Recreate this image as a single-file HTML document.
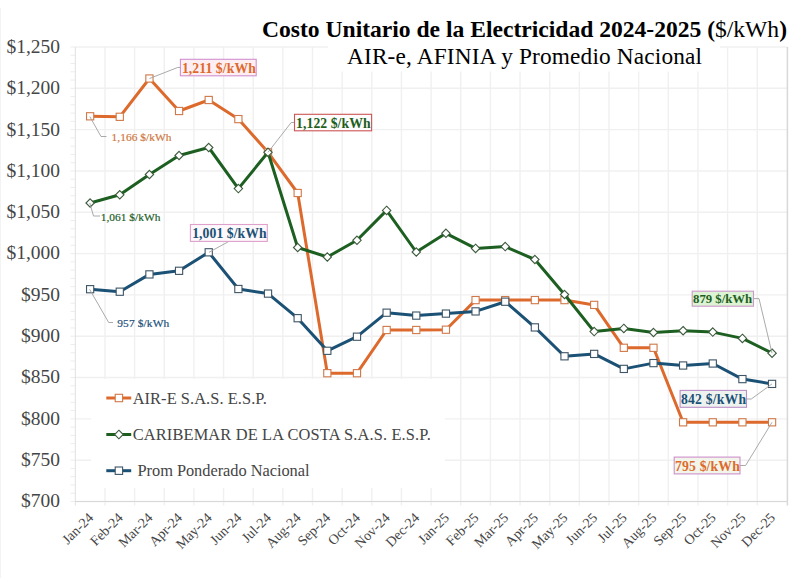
<!DOCTYPE html>
<html><head><meta charset="utf-8"><style>
html,body{margin:0;padding:0;background:#fff;}
body{width:800px;height:578px;overflow:hidden;}
svg{display:block;font-family:"Liberation Serif",serif;}
</style></head><body>
<svg width="800" height="578" viewBox="0 0 800 578">
<rect x="0" y="0" width="800" height="578" fill="#fff"/>
<line x1="0.5" y1="8" x2="0.5" y2="578" stroke="#f3f3f3" stroke-width="1"/>

<g stroke="#f0f0f0" stroke-width="1.4">
<line x1="75.30" y1="501.50" x2="786.90" y2="501.50"/>
<line x1="75.30" y1="460.18" x2="786.90" y2="460.18"/>
<line x1="75.30" y1="418.86" x2="786.90" y2="418.86"/>
<line x1="75.30" y1="377.55" x2="786.90" y2="377.55"/>
<line x1="75.30" y1="336.23" x2="786.90" y2="336.23"/>
<line x1="75.30" y1="294.91" x2="786.90" y2="294.91"/>
<line x1="75.30" y1="253.59" x2="786.90" y2="253.59"/>
<line x1="75.30" y1="212.27" x2="786.90" y2="212.27"/>
<line x1="75.30" y1="170.95" x2="786.90" y2="170.95"/>
<line x1="75.30" y1="129.64" x2="786.90" y2="129.64"/>
<line x1="75.30" y1="88.32" x2="786.90" y2="88.32"/>
<line x1="75.30" y1="47.00" x2="786.90" y2="47.00"/>
<line x1="104.95" y1="47.00" x2="104.95" y2="505.50"/>
<line x1="134.60" y1="47.00" x2="134.60" y2="505.50"/>
<line x1="164.25" y1="47.00" x2="164.25" y2="505.50"/>
<line x1="193.90" y1="47.00" x2="193.90" y2="505.50"/>
<line x1="223.55" y1="47.00" x2="223.55" y2="505.50"/>
<line x1="253.20" y1="47.00" x2="253.20" y2="505.50"/>
<line x1="282.85" y1="47.00" x2="282.85" y2="505.50"/>
<line x1="312.50" y1="47.00" x2="312.50" y2="505.50"/>
<line x1="342.15" y1="47.00" x2="342.15" y2="505.50"/>
<line x1="371.80" y1="47.00" x2="371.80" y2="505.50"/>
<line x1="401.45" y1="47.00" x2="401.45" y2="505.50"/>
<line x1="431.10" y1="47.00" x2="431.10" y2="505.50"/>
<line x1="460.75" y1="47.00" x2="460.75" y2="505.50"/>
<line x1="490.40" y1="47.00" x2="490.40" y2="505.50"/>
<line x1="520.05" y1="47.00" x2="520.05" y2="505.50"/>
<line x1="549.70" y1="47.00" x2="549.70" y2="505.50"/>
<line x1="579.35" y1="47.00" x2="579.35" y2="505.50"/>
<line x1="609.00" y1="47.00" x2="609.00" y2="505.50"/>
<line x1="638.65" y1="47.00" x2="638.65" y2="505.50"/>
<line x1="668.30" y1="47.00" x2="668.30" y2="505.50"/>
<line x1="697.95" y1="47.00" x2="697.95" y2="505.50"/>
<line x1="727.60" y1="47.00" x2="727.60" y2="505.50"/>
<line x1="757.25" y1="47.00" x2="757.25" y2="505.50"/>
</g>
<g stroke="#ededed" stroke-width="1">
<line x1="70.5" y1="501.50" x2="75.30" y2="501.50"/>
<line x1="70.5" y1="493.24" x2="75.30" y2="493.24"/>
<line x1="70.5" y1="484.97" x2="75.30" y2="484.97"/>
<line x1="70.5" y1="476.71" x2="75.30" y2="476.71"/>
<line x1="70.5" y1="468.45" x2="75.30" y2="468.45"/>
<line x1="70.5" y1="460.18" x2="75.30" y2="460.18"/>
<line x1="70.5" y1="451.92" x2="75.30" y2="451.92"/>
<line x1="70.5" y1="443.65" x2="75.30" y2="443.65"/>
<line x1="70.5" y1="435.39" x2="75.30" y2="435.39"/>
<line x1="70.5" y1="427.13" x2="75.30" y2="427.13"/>
<line x1="70.5" y1="418.86" x2="75.30" y2="418.86"/>
<line x1="70.5" y1="410.60" x2="75.30" y2="410.60"/>
<line x1="70.5" y1="402.34" x2="75.30" y2="402.34"/>
<line x1="70.5" y1="394.07" x2="75.30" y2="394.07"/>
<line x1="70.5" y1="385.81" x2="75.30" y2="385.81"/>
<line x1="70.5" y1="377.55" x2="75.30" y2="377.55"/>
<line x1="70.5" y1="369.28" x2="75.30" y2="369.28"/>
<line x1="70.5" y1="361.02" x2="75.30" y2="361.02"/>
<line x1="70.5" y1="352.75" x2="75.30" y2="352.75"/>
<line x1="70.5" y1="344.49" x2="75.30" y2="344.49"/>
<line x1="70.5" y1="336.23" x2="75.30" y2="336.23"/>
<line x1="70.5" y1="327.96" x2="75.30" y2="327.96"/>
<line x1="70.5" y1="319.70" x2="75.30" y2="319.70"/>
<line x1="70.5" y1="311.44" x2="75.30" y2="311.44"/>
<line x1="70.5" y1="303.17" x2="75.30" y2="303.17"/>
<line x1="70.5" y1="294.91" x2="75.30" y2="294.91"/>
<line x1="70.5" y1="286.65" x2="75.30" y2="286.65"/>
<line x1="70.5" y1="278.38" x2="75.30" y2="278.38"/>
<line x1="70.5" y1="270.12" x2="75.30" y2="270.12"/>
<line x1="70.5" y1="261.85" x2="75.30" y2="261.85"/>
<line x1="70.5" y1="253.59" x2="75.30" y2="253.59"/>
<line x1="70.5" y1="245.33" x2="75.30" y2="245.33"/>
<line x1="70.5" y1="237.06" x2="75.30" y2="237.06"/>
<line x1="70.5" y1="228.80" x2="75.30" y2="228.80"/>
<line x1="70.5" y1="220.54" x2="75.30" y2="220.54"/>
<line x1="70.5" y1="212.27" x2="75.30" y2="212.27"/>
<line x1="70.5" y1="204.01" x2="75.30" y2="204.01"/>
<line x1="70.5" y1="195.75" x2="75.30" y2="195.75"/>
<line x1="70.5" y1="187.48" x2="75.30" y2="187.48"/>
<line x1="70.5" y1="179.22" x2="75.30" y2="179.22"/>
<line x1="70.5" y1="170.95" x2="75.30" y2="170.95"/>
<line x1="70.5" y1="162.69" x2="75.30" y2="162.69"/>
<line x1="70.5" y1="154.43" x2="75.30" y2="154.43"/>
<line x1="70.5" y1="146.16" x2="75.30" y2="146.16"/>
<line x1="70.5" y1="137.90" x2="75.30" y2="137.90"/>
<line x1="70.5" y1="129.64" x2="75.30" y2="129.64"/>
<line x1="70.5" y1="121.37" x2="75.30" y2="121.37"/>
<line x1="70.5" y1="113.11" x2="75.30" y2="113.11"/>
<line x1="70.5" y1="104.85" x2="75.30" y2="104.85"/>
<line x1="70.5" y1="96.58" x2="75.30" y2="96.58"/>
<line x1="70.5" y1="88.32" x2="75.30" y2="88.32"/>
<line x1="70.5" y1="80.05" x2="75.30" y2="80.05"/>
<line x1="70.5" y1="71.79" x2="75.30" y2="71.79"/>
<line x1="70.5" y1="63.53" x2="75.30" y2="63.53"/>
<line x1="70.5" y1="55.26" x2="75.30" y2="55.26"/>
<line x1="70.5" y1="47.00" x2="75.30" y2="47.00"/>
</g>
<line x1="75.30" y1="47.00" x2="75.30" y2="505.50" stroke="#e0e0e0" stroke-width="1"/>
<line x1="787.40" y1="47.00" x2="787.40" y2="505.50" stroke="#d8d8d8" stroke-width="1.5"/>
<line x1="75.30" y1="501.50" x2="786.90" y2="501.50" stroke="#d8d8d8" stroke-width="1.2"/>
<rect x="91" y="379" width="354" height="109" fill="#fff"/>
<g font-size="19.5" fill="#454545" text-anchor="end">
<text x="60.1" y="507.40">$700</text>
<text x="60.1" y="466.08">$750</text>
<text x="60.1" y="424.76">$800</text>
<text x="60.1" y="383.45">$850</text>
<text x="60.1" y="342.13">$900</text>
<text x="60.1" y="300.81">$950</text>
<text x="60.1" y="259.49">$1,000</text>
<text x="60.1" y="218.17">$1,050</text>
<text x="60.1" y="176.85">$1,100</text>
<text x="60.1" y="135.54">$1,150</text>
<text x="60.1" y="94.22">$1,200</text>
<text x="60.1" y="52.90">$1,250</text>
</g>
<g font-size="14" fill="#454545" text-anchor="end">
<text transform="translate(94.12,518.50) rotate(-45)">Jan-24</text>
<text transform="translate(123.77,518.50) rotate(-45)">Feb-24</text>
<text transform="translate(153.43,518.50) rotate(-45)">Mar-24</text>
<text transform="translate(183.07,518.50) rotate(-45)">Apr-24</text>
<text transform="translate(212.72,518.50) rotate(-45)">May-24</text>
<text transform="translate(242.38,518.50) rotate(-45)">Jun-24</text>
<text transform="translate(272.02,518.50) rotate(-45)">Jul-24</text>
<text transform="translate(301.68,518.50) rotate(-45)">Aug-24</text>
<text transform="translate(331.32,518.50) rotate(-45)">Sep-24</text>
<text transform="translate(360.98,518.50) rotate(-45)">Oct-24</text>
<text transform="translate(390.62,518.50) rotate(-45)">Nov-24</text>
<text transform="translate(420.27,518.50) rotate(-45)">Dec-24</text>
<text transform="translate(449.93,518.50) rotate(-45)">Jan-25</text>
<text transform="translate(479.57,518.50) rotate(-45)">Feb-25</text>
<text transform="translate(509.22,518.50) rotate(-45)">Mar-25</text>
<text transform="translate(538.88,518.50) rotate(-45)">Apr-25</text>
<text transform="translate(568.52,518.50) rotate(-45)">May-25</text>
<text transform="translate(598.17,518.50) rotate(-45)">Jun-25</text>
<text transform="translate(627.82,518.50) rotate(-45)">Jul-25</text>
<text transform="translate(657.47,518.50) rotate(-45)">Aug-25</text>
<text transform="translate(687.12,518.50) rotate(-45)">Sep-25</text>
<text transform="translate(716.77,518.50) rotate(-45)">Oct-25</text>
<text transform="translate(746.42,518.50) rotate(-45)">Nov-25</text>
<text transform="translate(776.07,518.50) rotate(-45)">Dec-25</text>
</g>
<rect x="328" y="0" width="392" height="71.5" fill="#fff"/>
<text x="262" y="36.8" font-size="23.6" font-weight="bold" fill="#000" textLength="525" lengthAdjust="spacing">Costo Unitario de la Electricidad 2024-2025 (<tspan font-weight="normal">$/kWh</tspan>)</text>
<text x="347" y="63.5" font-size="23.3" fill="#000" textLength="355" lengthAdjust="spacing">AIR-e, AFINIA y Promedio Nacional</text>
<polyline points="90.12,116.30 119.77,116.80 149.43,78.50 179.07,111.00 208.72,100.00 238.38,119.10 268.02,152.30 297.68,193.00 327.32,373.20 356.98,373.20 386.62,330.00 416.27,330.00 445.93,329.70 475.57,300.10 505.22,300.10 534.88,300.10 564.52,300.10 594.17,304.90 623.82,347.80 653.47,347.80 683.12,422.30 712.77,422.30 742.42,422.30 772.07,422.30" fill="none" stroke="#dd6a2c" stroke-width="3" stroke-linejoin="round" stroke-linecap="round"/>
<rect x="86.53" y="112.70" width="7.2" height="7.2" fill="#fff" stroke="#d07848" stroke-width="1.1"/><rect x="116.17" y="113.20" width="7.2" height="7.2" fill="#fff" stroke="#d07848" stroke-width="1.1"/><rect x="145.83" y="74.90" width="7.2" height="7.2" fill="#fff" stroke="#d07848" stroke-width="1.1"/><rect x="175.47" y="107.40" width="7.2" height="7.2" fill="#fff" stroke="#d07848" stroke-width="1.1"/><rect x="205.12" y="96.40" width="7.2" height="7.2" fill="#fff" stroke="#d07848" stroke-width="1.1"/><rect x="234.78" y="115.50" width="7.2" height="7.2" fill="#fff" stroke="#d07848" stroke-width="1.1"/><rect x="264.42" y="148.70" width="7.2" height="7.2" fill="#fff" stroke="#d07848" stroke-width="1.1"/><rect x="294.07" y="189.40" width="7.2" height="7.2" fill="#fff" stroke="#d07848" stroke-width="1.1"/><rect x="323.72" y="369.60" width="7.2" height="7.2" fill="#fff" stroke="#d07848" stroke-width="1.1"/><rect x="353.38" y="369.60" width="7.2" height="7.2" fill="#fff" stroke="#d07848" stroke-width="1.1"/><rect x="383.02" y="326.40" width="7.2" height="7.2" fill="#fff" stroke="#d07848" stroke-width="1.1"/><rect x="412.67" y="326.40" width="7.2" height="7.2" fill="#fff" stroke="#d07848" stroke-width="1.1"/><rect x="442.32" y="326.10" width="7.2" height="7.2" fill="#fff" stroke="#d07848" stroke-width="1.1"/><rect x="471.97" y="296.50" width="7.2" height="7.2" fill="#fff" stroke="#d07848" stroke-width="1.1"/><rect x="501.62" y="296.50" width="7.2" height="7.2" fill="#fff" stroke="#d07848" stroke-width="1.1"/><rect x="531.27" y="296.50" width="7.2" height="7.2" fill="#fff" stroke="#d07848" stroke-width="1.1"/><rect x="560.92" y="296.50" width="7.2" height="7.2" fill="#fff" stroke="#d07848" stroke-width="1.1"/><rect x="590.57" y="301.30" width="7.2" height="7.2" fill="#fff" stroke="#d07848" stroke-width="1.1"/><rect x="620.22" y="344.20" width="7.2" height="7.2" fill="#fff" stroke="#d07848" stroke-width="1.1"/><rect x="649.87" y="344.20" width="7.2" height="7.2" fill="#fff" stroke="#d07848" stroke-width="1.1"/><rect x="679.52" y="418.70" width="7.2" height="7.2" fill="#fff" stroke="#d07848" stroke-width="1.1"/><rect x="709.17" y="418.70" width="7.2" height="7.2" fill="#fff" stroke="#d07848" stroke-width="1.1"/><rect x="738.82" y="418.70" width="7.2" height="7.2" fill="#fff" stroke="#d07848" stroke-width="1.1"/><rect x="768.47" y="418.70" width="7.2" height="7.2" fill="#fff" stroke="#d07848" stroke-width="1.1"/>
<polyline points="90.12,203.00 119.77,194.80 149.43,174.50 179.07,155.50 208.72,147.50 238.38,188.60 268.02,152.30 297.68,247.50 327.32,257.00 356.98,240.30 386.62,210.40 416.27,252.00 445.93,233.30 475.57,248.40 505.22,246.60 534.88,259.50 564.52,294.50 594.17,331.60 623.82,328.40 653.47,332.50 683.12,330.70 712.77,332.10 742.42,338.40 772.07,353.20" fill="none" stroke="#1c5f20" stroke-width="3" stroke-linejoin="round" stroke-linecap="round"/>
<path d="M90.12,198.80L94.33,203.00L90.12,207.20L85.92,203.00Z" fill="#fff" stroke="#3c5a3c" stroke-width="1.1"/><path d="M119.77,190.60L123.97,194.80L119.77,199.00L115.57,194.80Z" fill="#fff" stroke="#3c5a3c" stroke-width="1.1"/><path d="M149.43,170.30L153.62,174.50L149.43,178.70L145.23,174.50Z" fill="#fff" stroke="#3c5a3c" stroke-width="1.1"/><path d="M179.07,151.30L183.27,155.50L179.07,159.70L174.88,155.50Z" fill="#fff" stroke="#3c5a3c" stroke-width="1.1"/><path d="M208.72,143.30L212.92,147.50L208.72,151.70L204.52,147.50Z" fill="#fff" stroke="#3c5a3c" stroke-width="1.1"/><path d="M238.38,184.40L242.57,188.60L238.38,192.80L234.18,188.60Z" fill="#fff" stroke="#3c5a3c" stroke-width="1.1"/><path d="M268.02,148.10L272.22,152.30L268.02,156.50L263.82,152.30Z" fill="#fff" stroke="#3c5a3c" stroke-width="1.1"/><path d="M297.68,243.30L301.88,247.50L297.68,251.70L293.48,247.50Z" fill="#fff" stroke="#3c5a3c" stroke-width="1.1"/><path d="M327.32,252.80L331.52,257.00L327.32,261.20L323.12,257.00Z" fill="#fff" stroke="#3c5a3c" stroke-width="1.1"/><path d="M356.98,236.10L361.18,240.30L356.98,244.50L352.78,240.30Z" fill="#fff" stroke="#3c5a3c" stroke-width="1.1"/><path d="M386.62,206.20L390.82,210.40L386.62,214.60L382.43,210.40Z" fill="#fff" stroke="#3c5a3c" stroke-width="1.1"/><path d="M416.27,247.80L420.47,252.00L416.27,256.20L412.07,252.00Z" fill="#fff" stroke="#3c5a3c" stroke-width="1.1"/><path d="M445.93,229.10L450.12,233.30L445.93,237.50L441.73,233.30Z" fill="#fff" stroke="#3c5a3c" stroke-width="1.1"/><path d="M475.57,244.20L479.77,248.40L475.57,252.60L471.38,248.40Z" fill="#fff" stroke="#3c5a3c" stroke-width="1.1"/><path d="M505.22,242.40L509.42,246.60L505.22,250.80L501.02,246.60Z" fill="#fff" stroke="#3c5a3c" stroke-width="1.1"/><path d="M534.88,255.30L539.08,259.50L534.88,263.70L530.67,259.50Z" fill="#fff" stroke="#3c5a3c" stroke-width="1.1"/><path d="M564.52,290.30L568.73,294.50L564.52,298.70L560.32,294.50Z" fill="#fff" stroke="#3c5a3c" stroke-width="1.1"/><path d="M594.17,327.40L598.38,331.60L594.17,335.80L589.97,331.60Z" fill="#fff" stroke="#3c5a3c" stroke-width="1.1"/><path d="M623.82,324.20L628.02,328.40L623.82,332.60L619.62,328.40Z" fill="#fff" stroke="#3c5a3c" stroke-width="1.1"/><path d="M653.47,328.30L657.67,332.50L653.47,336.70L649.27,332.50Z" fill="#fff" stroke="#3c5a3c" stroke-width="1.1"/><path d="M683.12,326.50L687.32,330.70L683.12,334.90L678.92,330.70Z" fill="#fff" stroke="#3c5a3c" stroke-width="1.1"/><path d="M712.77,327.90L716.98,332.10L712.77,336.30L708.57,332.10Z" fill="#fff" stroke="#3c5a3c" stroke-width="1.1"/><path d="M742.42,334.20L746.62,338.40L742.42,342.60L738.22,338.40Z" fill="#fff" stroke="#3c5a3c" stroke-width="1.1"/><path d="M772.07,349.00L776.27,353.20L772.07,357.40L767.87,353.20Z" fill="#fff" stroke="#3c5a3c" stroke-width="1.1"/>
<polyline points="90.12,289.20 119.77,291.70 149.43,274.40 179.07,270.80 208.72,252.30 238.38,289.00 268.02,293.60 297.68,318.20 327.32,350.80 356.98,336.70 386.62,312.70 416.27,315.60 445.93,313.60 475.57,311.40 505.22,301.70 534.88,327.40 564.52,356.30 594.17,353.90 623.82,368.90 653.47,363.10 683.12,365.50 712.77,363.50 742.42,379.10 772.07,383.90" fill="none" stroke="#1b5175" stroke-width="3" stroke-linejoin="round" stroke-linecap="round"/>
<rect x="86.53" y="285.60" width="7.2" height="7.2" fill="#fff" stroke="#3d5566" stroke-width="1.1"/><rect x="116.17" y="288.10" width="7.2" height="7.2" fill="#fff" stroke="#3d5566" stroke-width="1.1"/><rect x="145.83" y="270.80" width="7.2" height="7.2" fill="#fff" stroke="#3d5566" stroke-width="1.1"/><rect x="175.47" y="267.20" width="7.2" height="7.2" fill="#fff" stroke="#3d5566" stroke-width="1.1"/><rect x="205.12" y="248.70" width="7.2" height="7.2" fill="#fff" stroke="#3d5566" stroke-width="1.1"/><rect x="234.78" y="285.40" width="7.2" height="7.2" fill="#fff" stroke="#3d5566" stroke-width="1.1"/><rect x="264.42" y="290.00" width="7.2" height="7.2" fill="#fff" stroke="#3d5566" stroke-width="1.1"/><rect x="294.07" y="314.60" width="7.2" height="7.2" fill="#fff" stroke="#3d5566" stroke-width="1.1"/><rect x="323.72" y="347.20" width="7.2" height="7.2" fill="#fff" stroke="#3d5566" stroke-width="1.1"/><rect x="353.38" y="333.10" width="7.2" height="7.2" fill="#fff" stroke="#3d5566" stroke-width="1.1"/><rect x="383.02" y="309.10" width="7.2" height="7.2" fill="#fff" stroke="#3d5566" stroke-width="1.1"/><rect x="412.67" y="312.00" width="7.2" height="7.2" fill="#fff" stroke="#3d5566" stroke-width="1.1"/><rect x="442.32" y="310.00" width="7.2" height="7.2" fill="#fff" stroke="#3d5566" stroke-width="1.1"/><rect x="471.97" y="307.80" width="7.2" height="7.2" fill="#fff" stroke="#3d5566" stroke-width="1.1"/><rect x="501.62" y="298.10" width="7.2" height="7.2" fill="#fff" stroke="#3d5566" stroke-width="1.1"/><rect x="531.27" y="323.80" width="7.2" height="7.2" fill="#fff" stroke="#3d5566" stroke-width="1.1"/><rect x="560.92" y="352.70" width="7.2" height="7.2" fill="#fff" stroke="#3d5566" stroke-width="1.1"/><rect x="590.57" y="350.30" width="7.2" height="7.2" fill="#fff" stroke="#3d5566" stroke-width="1.1"/><rect x="620.22" y="365.30" width="7.2" height="7.2" fill="#fff" stroke="#3d5566" stroke-width="1.1"/><rect x="649.87" y="359.50" width="7.2" height="7.2" fill="#fff" stroke="#3d5566" stroke-width="1.1"/><rect x="679.52" y="361.90" width="7.2" height="7.2" fill="#fff" stroke="#3d5566" stroke-width="1.1"/><rect x="709.17" y="359.90" width="7.2" height="7.2" fill="#fff" stroke="#3d5566" stroke-width="1.1"/><rect x="738.82" y="375.50" width="7.2" height="7.2" fill="#fff" stroke="#3d5566" stroke-width="1.1"/><rect x="768.47" y="380.30" width="7.2" height="7.2" fill="#fff" stroke="#3d5566" stroke-width="1.1"/>
<polyline points="149.5,78.5 177.6,67.5 180.6,67.5" fill="none" stroke="#a0a0a0" stroke-width="0.9"/>
<polyline points="89.8,116.5 101,136.5 106.5,136.5" fill="none" stroke="#a0a0a0" stroke-width="0.9"/>
<polyline points="268,152.3 291.2,122.5 294.5,122.5" fill="none" stroke="#a0a0a0" stroke-width="0.9"/>
<polyline points="89.8,203 93.5,216 100,216" fill="none" stroke="#a0a0a0" stroke-width="0.9"/>
<polyline points="209,252.3 228.7,241.5" fill="none" stroke="#a0a0a0" stroke-width="0.9"/>
<polyline points="89.6,289.3 108.7,322.5 113,322.5" fill="none" stroke="#a0a0a0" stroke-width="0.9"/>
<polyline points="772,353.2 759,298.6 753.5,298.6" fill="none" stroke="#a0a0a0" stroke-width="0.9"/>
<polyline points="772,383.9 751.3,399 746.5,399" fill="none" stroke="#a0a0a0" stroke-width="0.9"/>
<polyline points="772,422.3 745.6,465.5 740,465.5" fill="none" stroke="#a0a0a0" stroke-width="0.9"/>
<rect x="180.4" y="59.3" width="75.80" height="16.50" fill="#fdeef2" stroke="#d090d0" stroke-width="1.1"/><text x="181.90" y="72.8" font-size="13.7" font-weight="bold" fill="#dd6a2c" textLength="73.90" lengthAdjust="spacing">1,211 $/kWh</text>
<rect x="294.5" y="114.3" width="77.10" height="16.50" fill="#fdfbfb" stroke="#cc5555" stroke-width="1.1"/><text x="296.10" y="127.8" font-size="13.7" font-weight="bold" fill="#1c5f20" textLength="74.40" lengthAdjust="spacing">1,122 $/kWh</text>
<rect x="190.4" y="224.5" width="76.90" height="16.90" fill="#fcf8fb" stroke="#e0a0cc" stroke-width="1.1"/><text x="192.20" y="238.0" font-size="13.7" font-weight="bold" fill="#1b5175" textLength="74.40" lengthAdjust="spacing">1,001 $/kWh</text>
<rect x="692.2" y="291.2" width="61.30" height="15.00" fill="#dcf3d4" stroke="#cc99cc" stroke-width="1.1"/><text x="693.00" y="303.4" font-size="12.8" font-weight="bold" fill="#1c5f20" textLength="59.20" lengthAdjust="spacing">879 $/kWh</text>
<rect x="680.1" y="390.4" width="66.40" height="16.90" fill="#eef3ef" stroke="#bb90c8" stroke-width="1.1"/><text x="681.00" y="403.6" font-size="13.7" font-weight="bold" fill="#1b5175" textLength="65.10" lengthAdjust="spacing">842 $/kWh</text>
<rect x="674.2" y="457.1" width="65.80" height="16.80" fill="#f1f5ea" stroke="#cc90cc" stroke-width="1.1"/><text x="675.10" y="470.9" font-size="13.7" font-weight="bold" fill="#dd6a2c" textLength="64.70" lengthAdjust="spacing">795 $/kWh</text>
<text x="111.50" y="140.8" font-size="11.4" fill="#cf7842" stroke="#cf7842" stroke-width="0.2" textLength="60.00" lengthAdjust="spacing">1,166 $/kWh</text>
<text x="100.70" y="221.0" font-size="11.4" fill="#23602a" stroke="#23602a" stroke-width="0.2" textLength="59.80" lengthAdjust="spacing">1,061 $/kWh</text>
<text x="117.20" y="327.3" font-size="11.4" fill="#22507a" stroke="#22507a" stroke-width="0.2" textLength="52.10" lengthAdjust="spacing">957 $/kWh</text>
<line x1="106.3" y1="398.0" x2="131.2" y2="398.0" stroke="#dd6a2c" stroke-width="3"/>
<rect x="115.2" y="394.3" width="7.4" height="7.4" fill="#fff" stroke="#d07848" stroke-width="1.1"/>
<text x="132.70" y="403.8" font-size="16.4" fill="#454545" textLength="134.10" lengthAdjust="spacing">AIR-E S.A.S. E.S.P.</text>
<line x1="106.3" y1="434.5" x2="131.2" y2="434.5" stroke="#1c5f20" stroke-width="3"/>
<path d="M118.9,430.2L123.2,434.5L118.9,438.8L114.60000000000001,434.5Z" fill="#fff" stroke="#3c5a3c" stroke-width="1.1"/>
<text x="132.70" y="440.0" font-size="16.4" fill="#454545" textLength="298.20" lengthAdjust="spacing">CARIBEMAR DE LA COSTA S.A.S. E.S.P.</text>
<line x1="106.3" y1="470.7" x2="131.2" y2="470.7" stroke="#1b5175" stroke-width="3"/>
<rect x="115.2" y="467.0" width="7.4" height="7.4" fill="#fff" stroke="#3d5566" stroke-width="1.1"/>
<text x="137.50" y="475.8" font-size="16.4" fill="#454545" textLength="172.00" lengthAdjust="spacing">Prom Ponderado Nacional</text>
</svg>
</body></html>
